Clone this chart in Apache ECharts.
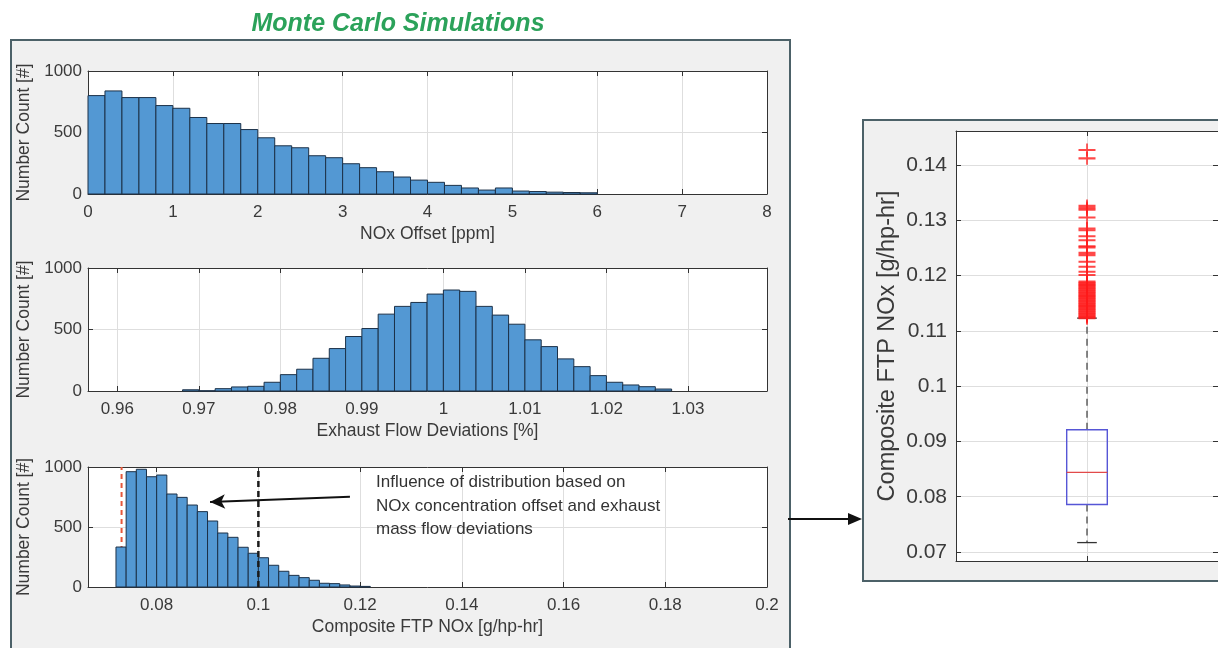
<!DOCTYPE html>
<html><head><meta charset="utf-8">
<script src="https://cdn.jsdelivr.net/npm/echarts@6/dist/echarts.min.js"></script>
<style>html,body{margin:0;padding:0;background:#fff}#c{width:1218px;height:648px}</style>
</head><body><div id="c"></div>
<script>
// ---------------- data ----------------
const noxOffsetBinStart = 0;
const noxOffsetBinWidth = 0.2;
const noxOffsetCounts = [800,838,784,784,719,697,622,573,573,524,457,392,376,311,295,246,214,181,138,113,95,70,49,32,49,24,20,15,12,10];

const flowBinStart = 0.968;
const flowBinWidth = 0.002;
const flowCounts = [10,2,19,33,38,71,133,177,266,345,443,508,625,688,720,788,821,810,688,617,543,416,361,261,198,125,71,49,35,16];

const ftpBinStart = 0.072;
const ftpBinWidth = 0.002;
const ftpCounts = [333,961,981,919,933,775,747,683,628,550,450,414,331,281,244,181,131,97,78,56,31,28,17,8,5];

const ftpLimitRed = 0.0731;
const ftpLimitBlack = 0.1;

// box plot: [lower whisker, Q1, median, Q3, upper whisker]
const boxValues = [0.0717, 0.0786, 0.0844, 0.0921, 0.1123];
const boxOutliers = [0.1427,0.1412,0.1326,0.1322,0.1319,0.1305,0.1285,0.1282,0.1271,0.1264,0.1253,0.1251,0.1241,0.1237,0.1225,0.1216,0.1207,0.1201,
  0.1189,0.1187,0.1185,0.1183,0.1181,0.1179,0.1177,0.1175,0.1173,0.1171,0.1169,0.1167,0.1165,0.1163,0.1161,0.1159,0.1157,0.1155,0.1153,0.1151,
  0.1149,0.1147,0.1145,0.1143,0.1141,0.1139,0.1137,0.1135,0.1133,0.1131,0.1129,0.1127,0.1125,0.1123];

// tick labels
const noxTicks = [0,1,2,3,4,5,6,7,8];
const flowTicks = [0.96,0.97,0.98,0.99,1,1.01,1.02,1.03];
const ftpTicks = [0.08,0.1,0.12,0.14,0.16,0.18,0.2];
const countTicks = [0,500,1000];
const boxTicks = [0.07,0.08,0.09,0.1,0.11,0.12,0.13,0.14];

// ---------------- build ----------------
const FONT = '"Liberation Sans", Arial, Helvetica, sans-serif';
const TXT = '#3a3a3a';
const AXC = '#333333';
const GRIDC = '#dedede';
const BAR = '#5398d3';
const EDGE = '#1c3148';

function binsToData(start, width, counts) {
  return counts.map((c, i) => [start + i * width, start + (i + 1) * width, c]);
}
const fmt = v => String(+(+v).toFixed(4));

function xAxis(gi, min, max, ticks, top, showLabel, name) {
  return {
    type: 'value', gridIndex: gi, min: min, max: max, position: top ? 'top' : 'bottom',
    name: name || '', nameLocation: 'middle', nameGap: 31,
    nameTextStyle: {fontFamily: FONT, fontSize: 17.5, color: TXT},
    axisLine: {show: true, onZero: false, lineStyle: {color: AXC, width: 1}},
    axisTick: {show: true, inside: true, length: 5, customValues: ticks, lineStyle: {color: AXC}},
    axisLabel: {show: !!showLabel, customValues: ticks, formatter: fmt, margin: 10,
      fontFamily: FONT, fontSize: 17, color: TXT},
    splitLine: {show: !top, lineStyle: {color: GRIDC, width: 1}}
  };
}
function yAxis(gi, min, max, ticks, right, showLabel, name, big) {
  return {
    type: 'value', gridIndex: gi, min: min, max: max, position: right ? 'right' : 'left',
    name: name || '', nameLocation: 'middle', nameGap: big ? 56 : 52,
    nameTextStyle: {fontFamily: FONT, fontSize: big ? 23.5 : 17.5, color: TXT},
    axisLine: {show: true, onZero: false, lineStyle: {color: AXC, width: 1}},
    axisTick: {show: true, inside: true, length: 5, customValues: ticks, lineStyle: {color: AXC}},
    axisLabel: {show: !!showLabel, customValues: ticks, formatter: fmt, margin: big ? 9 : 6,
      fontFamily: FONT, fontSize: big ? 21 : 17, color: TXT},
    splitLine: {show: !right, lineStyle: {color: GRIDC, width: 1}}
  };
}

function histSeries(ai, data) {
  return {
    type: 'custom', xAxisIndex: ai, yAxisIndex: ai, z: 2,
    encode: {x: [0, 1], y: 2},
    data: data,
    renderItem: (params, api) => {
      const p0 = api.coord([api.value(0), api.value(2)]);
      const p1 = api.coord([api.value(1), 0]);
      return {type: 'rect', shape: {x: p0[0], y: p0[1], width: p1[0] - p0[0], height: p1[1] - p0[1]},
        style: {fill: BAR, stroke: EDGE, lineWidth: 1}};
    }
  };
}

const option = {
  animation: false,
  backgroundColor: '#ffffff',
  graphic: [
    {type: 'rect', z: -100, shape: {x: 11, y: 40, width: 779, height: 640},
      style: {fill: '#f0f0f0', stroke: '#4c6168', lineWidth: 2}},
    {type: 'rect', z: -100, shape: {x: 863, y: 120, width: 400, height: 461},
      style: {fill: '#f0f0f0', stroke: '#4c6168', lineWidth: 2}},
    {type: 'text', x: 398, y: 24, z: 10,
      style: {text: 'Monte Carlo Simulations', fontFamily: FONT, fontSize: 25, fontWeight: 'bold', fontStyle: 'italic',
        fill: '#2ba25a', align: 'center', verticalAlign: 'middle'}},
    {type: 'text', x: 376, y: 471, z: 10,
      style: {text: 'Influence of distribution based on\nNOx concentration offset and exhaust\nmass flow deviations',
        fontFamily: FONT, fontSize: 17, lineHeight: 23.5, fill: '#333', align: 'left', verticalAlign: 'top'}},
    {type: 'line', z: 10, shape: {x1: 788, y1: 519, x2: 850, y2: 519}, style: {stroke: '#111', lineWidth: 2}},
    {type: 'polygon', z: 10, shape: {points: [[848, 513], [862, 519], [848, 525]]}, style: {fill: '#111'}}
  ],
  grid: [
    {left: 88, top: 71, width: 679, height: 123, show: true, backgroundColor: '#fff', borderWidth: 0},
    {left: 88, top: 268, width: 679, height: 123, show: true, backgroundColor: '#fff', borderWidth: 0},
    {left: 88, top: 467, width: 679, height: 120, show: true, backgroundColor: '#fff', borderWidth: 0},
    {left: 956, top: 131, width: 266, height: 430, show: true, backgroundColor: '#fff', borderWidth: 0}
  ],
  xAxis: [
    xAxis(0, 0, 8, noxTicks, false, true, 'NOx Offset [ppm]'),
    xAxis(1, 0.9564, 1.0397, flowTicks, false, true, 'Exhaust Flow Deviations [%]'),
    xAxis(2, 0.0665, 0.2, ftpTicks, false, true, 'Composite FTP NOx [g/hp-hr]'),
    xAxis(3, 0, 2, [1], false, false, ''),
    xAxis(0, 0, 8, noxTicks, true, false),
    xAxis(1, 0.9564, 1.0397, flowTicks, true, false),
    xAxis(2, 0.0665, 0.2, ftpTicks, true, false),
    xAxis(3, 0, 2, [1], true, false)
  ],
  yAxis: [
    yAxis(0, 0, 1000, countTicks, false, true, 'Number Count [#]'),
    yAxis(1, 0, 1000, countTicks, false, true, 'Number Count [#]'),
    yAxis(2, 0, 1000, countTicks, false, true, 'Number Count [#]'),
    yAxis(3, 0.06837, 0.14615, boxTicks, false, true, 'Composite FTP NOx [g/hp-hr]', true),
    yAxis(0, 0, 1000, countTicks, true, false),
    yAxis(1, 0, 1000, countTicks, true, false),
    yAxis(2, 0, 1000, countTicks, true, false),
    yAxis(3, 0.06837, 0.14615, boxTicks, true, false)
  ],
  series: [
    histSeries(0, binsToData(noxOffsetBinStart, noxOffsetBinWidth, noxOffsetCounts)),
    histSeries(1, binsToData(flowBinStart, flowBinWidth, flowCounts)),
    {
      type: 'line', xAxisIndex: 2, yAxisIndex: 2, z: 1, showSymbol: false, silent: true,
      data: [[ftpLimitRed, 0], [ftpLimitRed, 1000]],
      lineStyle: {color: '#e5573a', width: 2, type: [5, 4]}
    },
    histSeries(2, binsToData(ftpBinStart, ftpBinWidth, ftpCounts)),
    {
      type: 'line', xAxisIndex: 2, yAxisIndex: 2, z: 3, showSymbol: false, silent: true,
      data: [[ftpLimitBlack, 0], [ftpLimitBlack, 1000]],
      lineStyle: {color: '#1a1a1a', width: 2.5, type: [6, 4]},
      markLine: {
        silent: true, symbol: ['none', 'arrow'], symbolSize: [11, 15], label: {show: false},
        lineStyle: {color: '#111', width: 2, type: 'solid'},
        data: [[{coord: [0.1180, 752]}, {coord: [0.0905, 708]}]]
      }
    },
    {
      type: 'custom', xAxisIndex: 3, yAxisIndex: 3, z: 2,
      encode: {x: 0, y: [1, 2, 3, 4, 5]},
      data: [[1].concat(boxValues)],
      renderItem: (params, api) => {
        const xc = api.value(0);
        const pLo = api.coord([xc, api.value(1)]);
        const pQ1 = api.coord([xc, api.value(2)]);
        const pMd = api.coord([xc, api.value(3)]);
        const pQ3 = api.coord([xc, api.value(4)]);
        const pHi = api.coord([xc, api.value(5)]);
        const hw = api.size([0.155, 0])[0];
        const cw = api.size([0.075, 0])[0];
        const x = pMd[0];
        const dash = {stroke: '#4a4a4a', lineWidth: 1.3, lineDash: [7, 5]};
        return {type: 'group', children: [
          {type: 'line', shape: {x1: x, y1: pQ3[1], x2: x, y2: pHi[1]}, style: dash},
          {type: 'line', shape: {x1: x, y1: pQ1[1], x2: x, y2: pLo[1]}, style: dash},
          {type: 'line', shape: {x1: x - cw, y1: pHi[1], x2: x + cw, y2: pHi[1]}, style: {stroke: '#333', lineWidth: 1.3}},
          {type: 'line', shape: {x1: x - cw, y1: pLo[1], x2: x + cw, y2: pLo[1]}, style: {stroke: '#333', lineWidth: 1.3}},
          {type: 'rect', shape: {x: x - hw, y: pQ3[1], width: 2 * hw, height: pQ1[1] - pQ3[1]},
            style: {fill: 'none', stroke: '#5656d6', lineWidth: 1.4}},
          {type: 'line', shape: {x1: x - hw, y1: pMd[1], x2: x + hw, y2: pMd[1]}, style: {stroke: '#e24a4a', lineWidth: 1.4}}
        ]};
      }
    },
    {
      type: 'scatter', xAxisIndex: 3, yAxisIndex: 3, z: 3, silent: true,
      symbol: 'path://M0,8.4H20V11.6H0ZM9,0H11V20H9Z', symbolSize: [17, 13],
      itemStyle: {color: '#ff1a1a'},
      data: boxOutliers.map(v => [1, v])
    }
  ]
};

const chart = echarts.init(document.getElementById('c'), null, {renderer: 'canvas'});
chart.setOption(option);
</script>
</body></html>
